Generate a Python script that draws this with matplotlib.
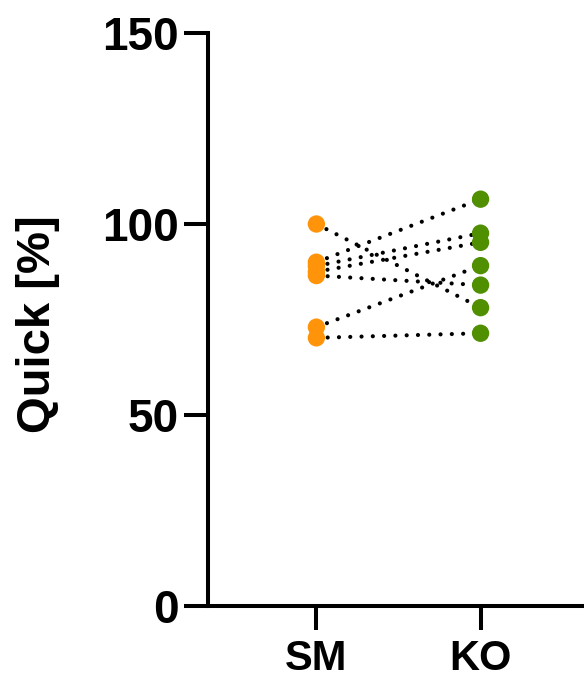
import matplotlib
matplotlib.use("Agg")
import matplotlib.pyplot as plt

groups = ["SM", "KO"]
sm_values = [100.0, 90.0, 89.0, 87.5, 86.5, 73.0, 70.2]
ko_values = [78.1, 106.5, 97.6, 95.2, 84.0, 89.1, 71.4]
yticks = [0, 50, 100, 150]
ylabel = "Quick [%]"

orange = "#FF940A"
green = "#4F8F00"

plt.rcParams['font.family'] = ['Liberation Sans', 'DejaVu Sans']
plt.rcParams['font.weight'] = 'bold'

fig = plt.figure(figsize=(5.84, 6.82), dpi=100)
ax = fig.add_axes([208/584, 1 - 606/682, 1 - 208/584, (606 - 33)/682])

xs = [0, 1]
for a, b in zip(sm_values, ko_values):
    ax.plot(xs, [a, b], color="black", lw=3.0, linestyle=(0, (0.01, 2.7)),
            dash_capstyle="round", zorder=2, clip_on=False)
ax.scatter([0]*len(sm_values), sm_values, s=12.5**2, color=orange, zorder=3,
           edgecolors="none", clip_on=False)
ax.scatter([1]*len(ko_values), ko_values, s=12.5**2, color=green, zorder=3,
           edgecolors="none", clip_on=False)

ax.set_xlim(-0.66, 1.63)
ax.set_ylim(0, 150)
ax.set_yticks(yticks)
ax.set_yticklabels([str(t) for t in yticks])
ax.set_xticks(xs)
ax.set_xticklabels(groups)

for s in ["top", "right"]:
    ax.spines[s].set_visible(False)
for s in ["left", "bottom"]:
    ax.spines[s].set_linewidth(2.9)
    ax.spines[s].set_capstyle("projecting")

ax.tick_params(axis="both", length=17, width=2.9, color="black")
ax.tick_params(axis="y", pad=4.3, labelsize=33)
ax.tick_params(axis="x", pad=6.5, labelsize=30)
for lab in ax.get_xticklabels() + ax.get_yticklabels():
    lab.set_fontweight("bold")

ax.set_ylabel(ylabel, fontsize=34, fontweight="bold")
ax.yaxis.set_label_coords((60 - 208)/376, (606 - 324)/573)

fig.savefig("out.png", dpi=100)
